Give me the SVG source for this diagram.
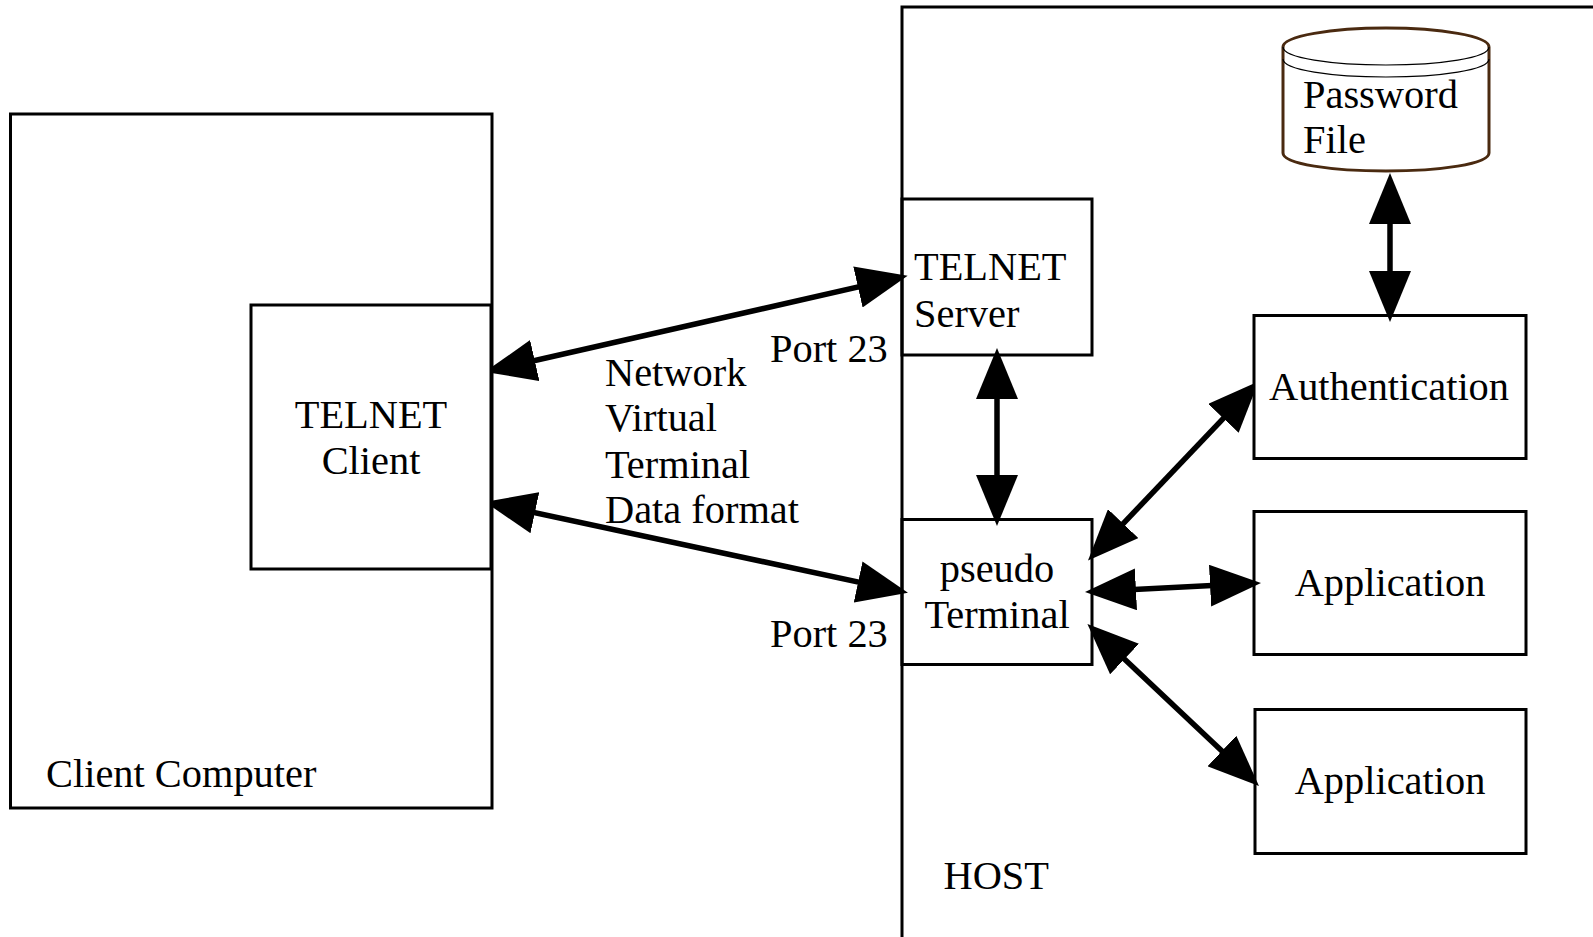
<svg xmlns="http://www.w3.org/2000/svg" width="1593" height="937" viewBox="0 0 1593 937">
<style>
.b{fill:none;stroke:#000;stroke-width:3}
.t{font-family:"Liberation Serif","Times New Roman",serif;font-size:40.400px;fill:#000}
.m{text-anchor:middle}
.c{fill:none;stroke:#000;stroke-width:5.500;marker-start:url(#h);marker-end:url(#h)}
</style>
<defs>
<marker id="h" markerUnits="userSpaceOnUse" viewBox="0 0 51 42" markerWidth="51" markerHeight="42" refX="41" refY="21" orient="auto-start-reverse"><path d="M0 0L51 21L0 42Z" fill="#000"/></marker>
<clipPath id="cl"><rect x="490" y="0" width="1103" height="937"/></clipPath>
<clipPath id="cr"><rect x="0" y="0" width="1255" height="937"/></clipPath>
</defs>
<rect width="1593" height="937" fill="#fff"/>
<g id="client-computer"><rect class="b" x="10.500" y="114" width="481.500" height="694"/><text class="t" x="46" y="787">Client Computer</text></g>
<g id="telnet-client"><rect class="b" x="251" y="305" width="240" height="264"/><text class="t m" x="371" y="428">TELNET</text><text class="t m" x="371" y="474">Client</text></g>
<g id="host"><path class="b" d="M902 937V7H1593"/><text class="t" x="943.500" y="889">HOST</text></g>
<g id="telnet-server"><rect class="b" x="902" y="199" width="190" height="156"/><text class="t" x="914" y="280">TELNET</text><text class="t" x="914" y="327">Server</text></g>
<g id="pseudo-terminal"><rect class="b" x="902" y="519.500" width="190" height="145"/><text class="t m" x="997" y="582">pseudo</text><text class="t m" x="997" y="628">Terminal</text></g>
<g id="password-file">
<path d="M1283 47C1283 36 1332 28 1386 28C1440 28 1489 36 1489 47V153C1489 164 1440 171 1386 171C1332 171 1283 164 1283 153Z" fill="none" stroke="#4a2a10" stroke-width="3"/>
<path d="M1283 47C1283 58 1332 65 1386 65C1440 65 1489 58 1489 47M1283 59C1283 70 1332 77 1386 77C1440 77 1489 70 1489 59" fill="none" stroke="#000" stroke-width="1.200"/>
<text class="t" x="1303" y="108">Password</text><text class="t" x="1303" y="153">File</text></g>
<g id="authentication"><rect class="b" x="1254" y="315.500" width="272" height="143"/><text class="t m" x="1389" y="400">Authentication</text></g>
<g id="application-1"><rect class="b" x="1254" y="511.500" width="272" height="143"/><text class="t m" x="1390" y="596">Application</text></g>
<g id="application-2"><rect class="b" x="1255" y="709.500" width="271" height="144"/><text class="t m" x="1390" y="794">Application</text></g>
<g id="connectors">
<line class="c" clip-path="url(#cl)" x1="494.800" y1="369.600" x2="897.900" y2="277.900"/>
<line class="c" clip-path="url(#cl)" x1="494.800" y1="504.100" x2="898.200" y2="590.600"/>
<line class="c" x1="1390" y1="183" x2="1390" y2="312"/>
<line class="c" x1="997" y1="358" x2="997" y2="516"/>
<line class="c" clip-path="url(#cr)" x1="1094.900" y1="553.300" x2="1251.700" y2="388.700"/>
<line class="c" x1="1095" y1="591.500" x2="1251" y2="583.500"/>
<line class="c" x1="1094.700" y1="630.900" x2="1251.700" y2="779.100"/>
</g>
<text class="t" x="605" y="386">Network</text>
<text class="t" x="605" y="431">Virtual</text>
<text class="t" x="605" y="478">Terminal</text>
<text class="t" x="605" y="523">Data format</text>
<text class="t" x="770" y="362">Port 23</text>
<text class="t" x="770" y="647">Port 23</text>
</svg>
